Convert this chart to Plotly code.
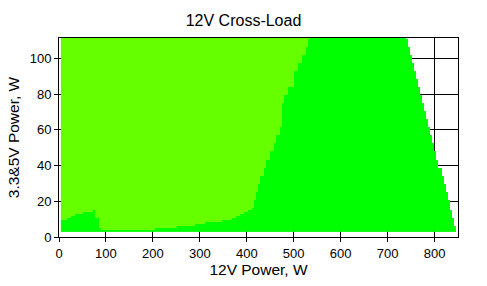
import numpy as np
import plotly.graph_objects as go

# ---- data ----
# lower bound (W) of each 3.3&5V load band; each band holds until the next one
load_33_5v_w = [3.1, 4.2, 5.4, 6.5, 7.6, 8.7, 9.8, 10.9, 12.1, 13.2, 14.3, 15.4,
                16.6, 21.1, 25.6, 30.1, 34.6, 39.1, 43.6, 48.1, 52.6, 57.1, 61.6,
                66.1, 70.6, 75.1, 79.6, 84.1, 88.6, 93.1, 97.6, 102.1, 106.6, 111.1]
# 12V power (W) at which the green zone starts in each band
green_from_12v_w = [4, 205, 252, 290, 312, 350, 368, 378, 386, 395, 403, 410,
                    418, 421, 426, 431, 437, 443, 449, 458, 465, 470, 474,
                    476, 476, 478, 490, 500, 503, 508, 517, 525, 529, 537]
# highest 12V load tested in each band (W)
max_12v_w = [847, 846, 845, 843, 842, 841, 840, 839, 838, 837, 836, 834,
             832, 827, 823, 818, 814, 809, 805, 800, 796, 791, 787,
             782, 778, 773, 769, 764, 760, 755, 751, 746, 742, 740]
# low-load green blob at left (3.3&5V band lower bound, 12V from, 12V to)
blob_33_5v_w = [4.2, 5.4, 6.5, 7.6, 8.7, 9.8, 10.9, 12.1, 13.2, 14.3]
blob_from_w = [4, 4, 4, 4, 4, 17, 24, 35, 52, 70]
blob_to_w = [88, 86, 85, 84, 83, 83, 77, 77, 77, 77]

x_ticks = [0, 100, 200, 300, 400, 500, 600, 700, 800]
y_ticks = [0, 20, 40, 60, 80, 100]

# ---- grid of measurement cells ----
dx, dy = 4.25, 1.124
x_edges = 4 + dx * np.arange(201)
y_edges = 3.1 + dy * np.arange(98)
xc = (x_edges[:-1] + x_edges[1:]) / 2
yc = (y_edges[:-1] + y_edges[1:]) / 2

lv = np.array(load_33_5v_w)
bl = np.array(blob_33_5v_w)
z = np.full((len(yc), len(xc)), np.nan)
for r, y in enumerate(yc):
    b = max(0, np.searchsorted(lv, y + 1e-6) - 1)
    row = np.where(xc <= max_12v_w[b], np.where(xc >= green_from_12v_w[b], 1.0, 0.0), np.nan)
    bi = np.searchsorted(bl, y + 1e-6) - 1
    if 0 <= bi < len(bl) and y < bl[bi] + dy:
        m = (xc >= blob_from_w[bi]) & (xc <= blob_to_w[bi])
        row[m] = 1.0
    z[r] = row

fig = go.Figure(go.Heatmap(
    x=x_edges, y=y_edges, z=z, zmin=0, zmax=1, showscale=False,
    colorscale=[[0, "#66FF00"], [0.5, "#66FF00"], [0.5, "#00FF00"], [1, "#00FF00"]],
    hoverinfo="skip"))

font = "Liberation Sans, Arial, sans-serif"
fig.update_layout(
    width=487, height=286,
    margin=dict(l=59, r=29, t=38, b=49),
    paper_bgcolor="white", plot_bgcolor="white",
    font=dict(family=font, size=13, color="black"),
    title=dict(text="12V Cross-Load", x=0.5, xanchor="center", y=0.93, yanchor="middle",
               font=dict(size=16, color="black")),
    xaxis=dict(range=[0, 850], tickvals=x_ticks, ticks="outside", ticklen=4, tickcolor="black",
               showgrid=True, gridcolor="black", gridwidth=1, zeroline=False,
               showline=True, linecolor="black", linewidth=1, mirror=True,
               title=dict(text="12V Power, W", font=dict(size=15.5), standoff=4)),
    yaxis=dict(range=[0, 111.5], tickvals=y_ticks, ticks="outside", ticklen=4, tickcolor="black",
               showgrid=True, gridcolor="black", gridwidth=1, zeroline=False,
               showline=True, linecolor="black", linewidth=1, mirror=True,
               title=dict(text="3.3&5V Power, W", font=dict(size=15.5), standoff=6)),
)
fig.write_html("out.html")
